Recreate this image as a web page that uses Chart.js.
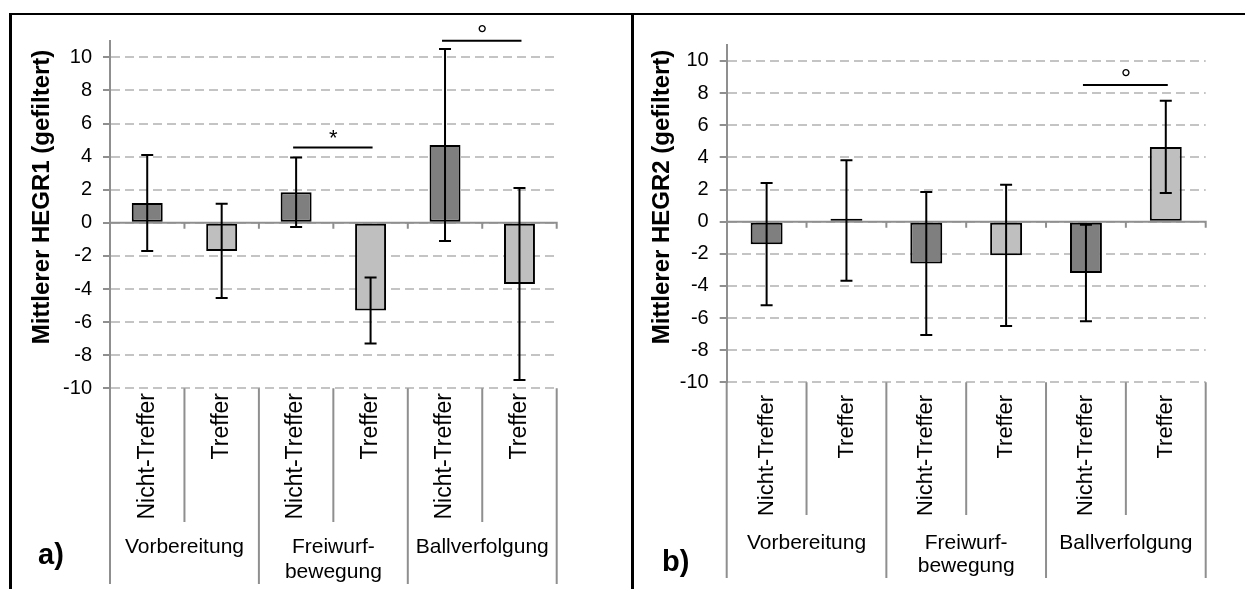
<!DOCTYPE html>
<html lang="de">
<head>
<meta charset="utf-8">
<title>Mittlerer HEGR (gefiltert)</title>
<script src="https://cdn.jsdelivr.net/npm/chart.js@4.4.1/dist/chart.umd.min.js"></script>
<style>
  html, body { margin: 0; padding: 0; background: #fff; }
  #page { position: relative; width: 1245px; height: 589px; overflow: hidden; }
  .panel { position: absolute; top: 0; }
  #panelA { left: 0; }
  #panelB { left: 632px; }
  .rule { position: absolute; background: #000; }
</style>
</head>
<body>
<div id="page">
  <div class="panel" id="panelA"><canvas id="chartA" width="632" height="589"></canvas></div>
  <div class="panel" id="panelB"><canvas id="chartB" width="613" height="589"></canvas></div>
  <div class="rule" style="left:9px; top:13px; width:3px; height:576px"></div>
  <div class="rule" style="left:9px; top:13px; width:1236px; height:2px"></div>
  <div class="rule" style="left:631px; top:13px; width:3px; height:576px"></div>
</div>
<script>
// categories and groups shared by both panels
const categories = ['Nicht-Treffer', 'Treffer', 'Nicht-Treffer', 'Treffer', 'Nicht-Treffer', 'Treffer'];
const groups = [['Vorbereitung'], ['Freiwurf-', 'bewegung'], ['Ballverfolgung']];
const yTicks = [-10, -8, -6, -4, -2, 0, 2, 4, 6, 8, 10];

// a) HEGR1: means and error bar half-widths
const meansA = [1.2, -1.7, 1.85, -5.3, 4.7, -3.7];
const errorsA = [2.9, 2.85, 2.1, 2.0, 5.8, 5.8];
const signifA = [
    { from: 2, to: 3, level: 4.55, mark: '*' },
    { from: 4, to: 5, level: 11, mark: '°' }
];

// b) HEGR2
const meansB = [-1.4, 0.07, -2.6, -2.1, -3.2, 4.65];
const errorsB = [3.8, 3.75, 4.45, 4.4, 3.0, 2.87];
const signifB = [
    { from: 4, to: 5, level: 8.5, mark: '°' }
];

const FONT = "'Liberation Sans', Arial, sans-serif";
const AXIS_GREY = '#8f8f8f';
const GRID_GREY = '#c4c4c4';
const barColors = ['#7f7f7f', '#bfbfbf', '#7f7f7f', '#bfbfbf', '#7f7f7f', '#bfbfbf'];

// draws zero line, error bars, brackets, category axis and titles
function makeDecor(cfg) {
    return {
        id: 'decor',
        beforeDatasetsDraw(chart) {
            const { ctx, chartArea } = chart;
            const y0 = chart.scales.y.getPixelForValue(0);
            const step = (chartArea.right - chartArea.left) / categories.length;
            ctx.save();
            ctx.strokeStyle = AXIS_GREY;
            ctx.lineWidth = 2;
            ctx.beginPath();
            ctx.moveTo(chartArea.left, y0);
            ctx.lineTo(chartArea.right + 1, y0);
            for (let i = 1; i <= categories.length; i++) {
                const x = chartArea.left + i * step;
                ctx.moveTo(x, y0);
                ctx.lineTo(x, y0 + 6);
            }
            ctx.stroke();
            ctx.restore();
        },
        afterDatasetsDraw(chart) {
            const { ctx, chartArea } = chart;
            const y = chart.scales.y;
            const meta = chart.getDatasetMeta(0);
            const step = (chartArea.right - chartArea.left) / categories.length;

            ctx.save();
            ctx.strokeStyle = '#000';
            ctx.fillStyle = '#000';
            ctx.lineWidth = 2;

            // error bars
            meta.data.forEach((bar, i) => {
                const hi = y.getPixelForValue(cfg.means[i] + cfg.errors[i]);
                const lo = y.getPixelForValue(cfg.means[i] - cfg.errors[i]);
                ctx.beginPath();
                ctx.moveTo(bar.x, hi);
                ctx.lineTo(bar.x, lo);
                ctx.moveTo(bar.x - 6, hi);
                ctx.lineTo(bar.x + 6, hi);
                ctx.moveTo(bar.x - 6, lo);
                ctx.lineTo(bar.x + 6, lo);
                ctx.stroke();
            });

            // significance brackets
            cfg.signif.forEach(s => {
                const x1 = meta.data[s.from].x;
                const x2 = meta.data[s.to].x;
                const yy = y.getPixelForValue(s.level);
                ctx.beginPath();
                ctx.moveTo(x1 - 3, yy);
                ctx.lineTo(x2 + 2, yy);
                ctx.stroke();
                ctx.textAlign = 'center';
                ctx.textBaseline = 'alphabetic';
                if (s.mark === '*') {
                    ctx.font = `22px ${FONT}`;
                    ctx.fillText(s.mark, (x1 + x2) / 2, yy - 2);
                } else {
                    ctx.font = `26px ${FONT}`;
                    ctx.fillText(s.mark, (x1 + x2) / 2, yy + 2);
                }
            });

            // category separators below the plot
            ctx.strokeStyle = AXIS_GREY;
            ctx.beginPath();
            for (let i = 0; i <= categories.length; i++) {
                const x = chartArea.left + i * step;
                ctx.moveTo(x, chartArea.bottom);
                ctx.lineTo(x, i % 2 === 0 ? cfg.groupBottom : cfg.innerBottom);
            }
            ctx.stroke();

            // rotated category labels
            ctx.font = `${cfg.labelFont}px ${FONT}`;
            meta.data.forEach((bar, i) => {
                ctx.save();
                ctx.translate(bar.x, cfg.labelTop);
                ctx.rotate(-Math.PI / 2);
                ctx.textAlign = 'right';
                ctx.textBaseline = 'middle';
                ctx.fillText(categories[i], 0, 0);
                ctx.restore();
            });

            // group labels
            ctx.font = `${cfg.groupFont}px ${FONT}`;
            ctx.textAlign = 'center';
            ctx.textBaseline = 'middle';
            groups.forEach((lines, g) => {
                const cx = chartArea.left + (2 * g + 1) * step;
                lines.forEach((line, k) => ctx.fillText(line, cx, cfg.groupY + k * cfg.groupLine));
            });

            // y axis title
            ctx.save();
            ctx.translate(cfg.titleX, cfg.titleY);
            ctx.rotate(-Math.PI / 2);
            ctx.font = `bold ${cfg.titleFont}px ${FONT}`;
            ctx.textAlign = 'center';
            ctx.textBaseline = 'middle';
            ctx.fillText(cfg.title, 0, 0);
            ctx.restore();

            // panel tag
            ctx.font = `bold 29px ${FONT}`;
            ctx.textAlign = 'left';
            ctx.textBaseline = 'alphabetic';
            ctx.fillText(cfg.tag, cfg.tagX, cfg.tagY);

            ctx.restore();
        }
    };
}

function buildPanel(canvasId, cfg) {
    return new Chart(document.getElementById(canvasId), {
        type: 'bar',
        data: {
            labels: categories,
            datasets: [{
                data: cfg.means,
                backgroundColor: barColors,
                borderColor: '#000',
                borderWidth: 2,
                borderSkipped: false,
                minBarLength: 3,
                barPercentage: cfg.barPct,
                categoryPercentage: 1
            }]
        },
        options: {
            responsive: false,
            animation: false,
            layout: { padding: { top: cfg.padTop, right: cfg.padRight, bottom: cfg.padBottom, left: 0 } },
            plugins: {
                legend: { display: false },
                tooltip: { enabled: false }
            },
            scales: {
                x: { display: false },
                y: {
                    min: -10,
                    max: 11,
                    afterBuildTicks: s => { s.ticks = yTicks.map(v => ({ value: v })); },
                    afterFit: s => { s.width = cfg.axisWidth; },
                    grid: { color: GRID_GREY, lineWidth: 2, tickLength: 7, tickColor: AXIS_GREY, tickWidth: 2 },
                    border: { color: AXIS_GREY, width: 2, dash: [9, 5] },
                    ticks: { font: { size: 20, family: FONT }, color: '#000', padding: 11 }
                }
            }
        },
        plugins: [makeDecor(cfg)]
    });
}

buildPanel('chartA', {
    means: meansA, errors: errorsA, signif: signifA, barPct: 0.416,
    padTop: 40.75, padRight: 75.3, padBottom: 200.7, axisWidth: 110,
    labelTop: 393, labelFont: 23, innerBottom: 522, groupBottom: 584,
    groupFont: 21, groupY: 547, groupLine: 25,
    title: 'Mittlerer HEGR1 (gefiltert)', titleFont: 24, titleX: 42, titleY: 197,
    tag: 'a)', tagX: 38, tagY: 564
});

buildPanel('chartB', {
    means: meansB, errors: errorsB, signif: signifB, barPct: 0.40,
    padTop: 44.9, padRight: 39.3, padBottom: 206.7, axisWidth: 94.7,
    labelTop: 395, labelFont: 22, innerBottom: 515, groupBottom: 578,
    groupFont: 21, groupY: 543, groupLine: 23,
    title: 'Mittlerer HEGR2 (gefiltert)', titleFont: 24, titleX: 30, titleY: 197,
    tag: 'b)', tagX: 30, tagY: 571
});
</script>
</body>
</html>
